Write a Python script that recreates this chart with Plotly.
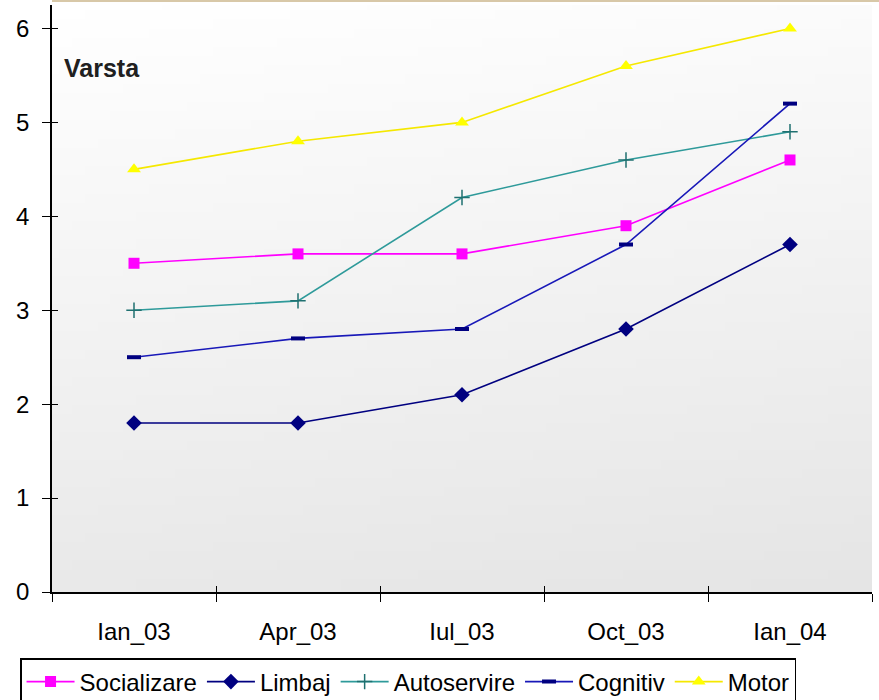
import base64, struct, zlib
import plotly.graph_objects as go

categories = ["Ian_03", "Apr_03", "Iul_03", "Oct_03", "Ian_04"]
socializare = [3.5, 3.6, 3.6, 3.9, 4.6]
limbaj = [1.8, 1.8, 2.1, 2.8, 3.7]
autoservire = [3.0, 3.1, 4.2, 4.6, 4.9]
cognitiv = [2.5, 2.7, 2.8, 3.7, 5.2]
motor = [4.5, 4.8, 5.0, 5.6, 6.0]
y_ticks = [0, 1, 2, 3, 4, 5, 6]


def gradient_png(w=64, h=64):
    rows = b""
    for j in range(h):
        row = b"\x00"
        for i in range(w):
            v = 255 - 26 * (0.85 * j / (h - 1) + 0.15 * i / (w - 1))
            c = int(round(v))
            row += bytes([c, c, c])
        rows += row
    def chunk(t, d):
        return struct.pack(">I", len(d)) + t + d + struct.pack(">I", zlib.crc32(t + d) & 0xffffffff)
    png = b"\x89PNG\r\n\x1a\n" + chunk(b"IHDR", struct.pack(">IIBBBBB", w, h, 8, 2, 0, 0, 0))
    png += chunk(b"IDAT", zlib.compress(rows)) + chunk(b"IEND", b"")
    return "data:image/png;base64," + base64.b64encode(png).decode()


FONT = "Arial, Liberation Sans, sans-serif"
fig = go.Figure()

series = [
    ("Socializare", socializare, "#FF00FF", dict(symbol="square", size=11, color="#FF00FF")),
    ("Limbaj", limbaj, "#000080", dict(symbol="diamond", size=12, color="#000080")),
    ("Autoservire", autoservire, "#2E9A9A", dict(symbol="cross-thin", size=11, color="#1F7070", line=dict(width=1.5, color="#1F7070"))),
    ("Cognitiv", cognitiv, "#1818B8", dict(symbol="line-ew", size=10, color="#000080", line=dict(width=4, color="#000080"))),
    ("Motor", motor, "#F5E800", dict(symbol="triangle-up", size=12, color="#FFFF00")),
]
for name, vals, col, mk in series:
    fig.add_trace(go.Scatter(x=categories, y=vals, name=name, mode="lines+markers",
                             line=dict(color=col, width=1.6), marker=mk))

fig.update_layout(
    width=879, height=700,
    margin=dict(l=52, r=7, t=5, b=108),
    paper_bgcolor="white", plot_bgcolor="white",
    font=dict(family=FONT, size=24, color="black"),
    xaxis=dict(type="category", categoryorder="array", categoryarray=categories,
               range=[-0.5, 4.5], tickson="boundaries", ticks="outside", ticklen=8,
               tickcolor="black", showline=True, linecolor="black", linewidth=1.5,
               showgrid=False, zeroline=False, ticklabelstandoff=17),
    yaxis=dict(range=[0, 6.25], tickvals=y_ticks, ticks="outside", ticklen=8,
               tickcolor="black", showline=True, linecolor="black", linewidth=1.5,
               showgrid=False, zeroline=False, ticklabelstandoff=8),
    xaxis2=dict(overlaying="x", range=[-0.5, 4.5], tickvals=[-0.5, 0.5, 1.5, 2.5, 3.5, 4.5],
                ticks="inside", ticklen=6, tickcolor="black", showticklabels=False,
                showgrid=False, zeroline=False, side="bottom"),
    yaxis2=dict(overlaying="y", range=[0, 6.25], tickvals=y_ticks, ticks="inside", ticklen=6,
                tickcolor="black", showticklabels=False, showgrid=False, zeroline=False),
    legend=dict(orientation="h", xref="container", yref="container",
                x=0.0228, xanchor="left", y=0.06, yanchor="top",
                bgcolor="white", bordercolor="black", borderwidth=1.5,
                font=dict(family=FONT, size=24), itemwidth=48, tracegroupgap=0),
    showlegend=True,
    images=[dict(source=gradient_png(), xref="paper", yref="paper", x=0, y=1,
                 sizex=1, sizey=1, sizing="stretch", layer="below")],
    annotations=[dict(text="<b>Varsta</b>", xref="paper", yref="paper", x=0.012, y=0.893,
                      xanchor="left", yanchor="middle", showarrow=False,
                      font=dict(family=FONT, size=25, color="#202020"))],
    shapes=[dict(type="line", xref="paper", yref="paper", x0=0, x1=1.01, y0=1.0068, y1=1.0068,
                 line=dict(color="#D8C8A8", width=2))],
)
fig.add_trace(go.Scatter(x=[None], y=[None], xaxis="x2", yaxis="y2", showlegend=False, hoverinfo="skip"))

fig.write_html("out.html")
